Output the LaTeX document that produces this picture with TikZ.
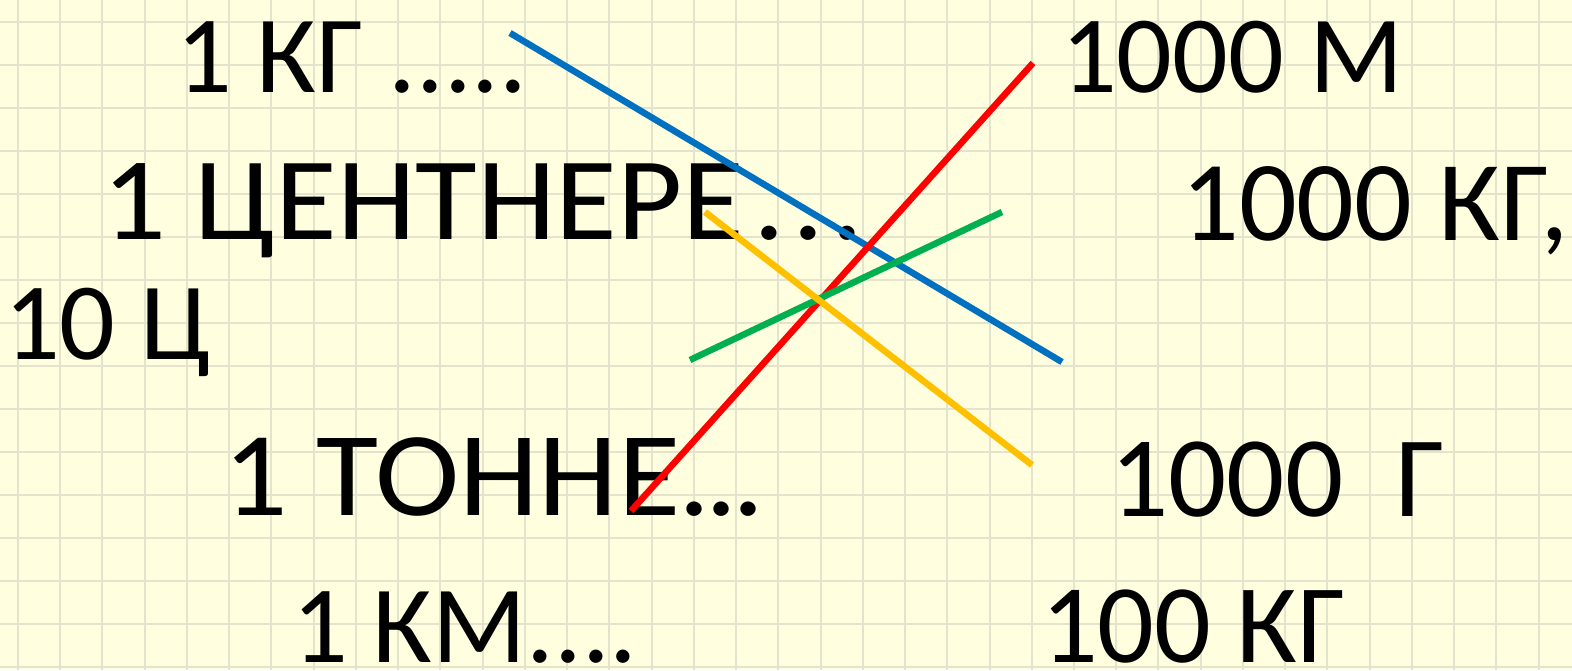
\documentclass[tikz,border=0pt]{standalone}
\usepackage{fontspec}
\setmainfont{Carlito}
\usepackage{graphicx}
\definecolor{paper}{RGB}{255,255,224}
\definecolor{gridc}{RGB}{228,228,206}
\definecolor{lblue}{RGB}{0,112,192}
\definecolor{lred}{RGB}{255,0,0}
\definecolor{lgreen}{RGB}{0,176,80}
\definecolor{lyellow}{RGB}{255,192,0}
\tikzset{
  lbl/.style={anchor=base west, inner sep=0pt, font=\fontsize{110}{110}\selectfont},
  link/.style={line width=6.5pt}
}
\begin{document}
\begin{tikzpicture}[x=1pt,y=-1pt]
\useasboundingbox (0,0) rectangle (1572,670);
\fill[paper] (0,0) rectangle (1572,670);
\foreach \i in {0,...,37} {\draw[gridc, line width=2pt] ({18+42.24*\i},0) -- ({18+42.24*\i},670);}
\foreach \j in {0,...,15} {\draw[gridc, line width=2pt] (0,{22+43*\j}) -- (1572,{22+43*\j});}
\node[lbl] (kg) at (176,92) {1 КГ .....};
\node[lbl] (cent) at (102,239) {\fontsize{118}{118}\selectfont\scalebox{1.07}[1]{1 ЦЕНТНЕРЕ\kern0.07em.\kern0.06em.\kern0.06em.}};
\node[lbl] (tc) at (4,359) {10 Ц};
\node[lbl] (tonn) at (223,515) {\fontsize{120}{120}\selectfont\scalebox{1.06}[1]{1 ТОННЕ\kern-0.01em.\kern-0.04em.\kern-0.04em.}};
\node[lbl] (km) at (292,662) {1 КМ....};
\node[lbl] (km1000) at (1061,92) {1000 М};
\node[lbl] (kg1000) at (1181,240) {\fontsize{114}{114}\selectfont 1000 КГ,};
\node[lbl] (g1000) at (1110,516) {\fontsize{115}{115}\selectfont 1000 \ Г};
\node[lbl] (kg100) at (1041,662) {\fontsize{112}{112}\selectfont 100 КГ};
\coordinate (b1) at (510,33);  \coordinate (b2) at (1062,362);
\coordinate (r1) at (1033,63); \coordinate (r2) at (631,511);
\coordinate (g1) at (690,360); \coordinate (g2) at (1002,212);
\coordinate (y1) at (705,212); \coordinate (y2) at (1032,465);
\draw[link, lblue] (b1) -- (b2);
\draw[link, lred] (r1) -- (r2);
\draw[link, lgreen] (g1) -- (g2);
\draw[link, lyellow] (y1) -- (y2);
\end{tikzpicture}
\end{document}
